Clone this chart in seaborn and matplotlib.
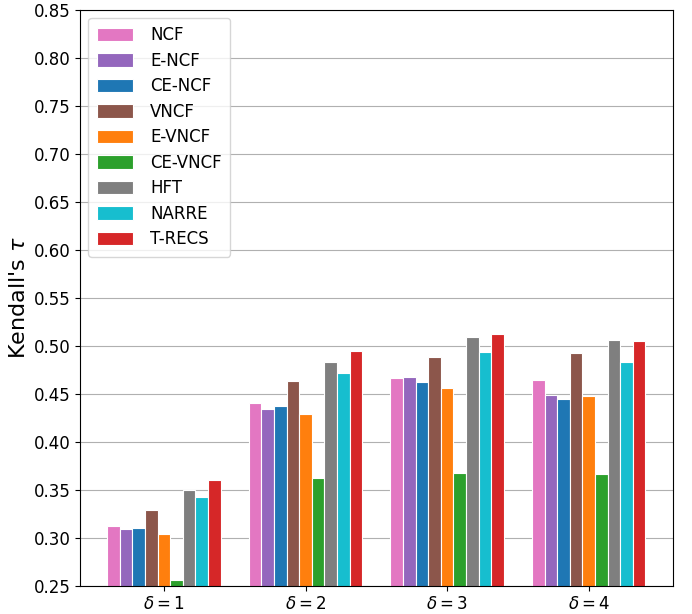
import numpy as np
import pandas as pd
import matplotlib
matplotlib.use("Agg")
import matplotlib.pyplot as plt
import seaborn as sns

groups = [r"$\delta=1$", r"$\delta=2$", r"$\delta=3$", r"$\delta=4$"]
methods = ["NCF", "E-NCF", "CE-NCF", "VNCF", "E-VNCF", "CE-VNCF", "HFT", "NARRE", "T-RECS"]
colors = ["#e377c2", "#9467bd", "#1f77b4", "#8c564b", "#ff7f0e", "#2ca02c", "#7f7f7f", "#17becf", "#d62728"]

ncf     = [0.312, 0.440, 0.466, 0.464]
e_ncf   = [0.309, 0.434, 0.467, 0.449]
ce_ncf  = [0.310, 0.437, 0.462, 0.444]
vncf    = [0.329, 0.463, 0.488, 0.492]
e_vncf  = [0.304, 0.429, 0.456, 0.448]
ce_vncf = [0.256, 0.362, 0.367, 0.366]
hft     = [0.350, 0.483, 0.509, 0.506]
narre   = [0.342, 0.472, 0.493, 0.483]
t_recs  = [0.360, 0.494, 0.512, 0.505]

series = [ncf, e_ncf, ce_ncf, vncf, e_vncf, ce_vncf, hft, narre, t_recs]
rows = []
for m, vals in zip(methods, series):
    for g, v in zip(groups, vals):
        rows.append({"group": g, "method": m, "value": v})
df = pd.DataFrame(rows)

plt.rcParams["font.family"] = ["DejaVu Sans"]
fig, ax = plt.subplots(figsize=(6.92, 6.14), dpi=100)
sns.barplot(data=df, x="group", y="value", hue="method", order=groups,
            hue_order=methods, palette=colors, ax=ax, width=0.8,
            edgecolor="white", linewidth=0.8, saturation=1)

ax.set_ylim(0.25, 0.85)
ticks = np.arange(0.25, 0.851, 0.05)
ax.set_yticks(ticks)
ax.set_yticklabels([f"{t:.2f}" for t in ticks])
ax.set_xlim(-0.593, 3.593)
ax.yaxis.grid(True, color="#b0b0b0", linewidth=0.8)
ax.set_axisbelow(True)
ax.set_xlabel("")
ax.set_ylabel(r"Kendall's $\tau$", fontsize=16, labelpad=3)
ax.tick_params(axis="both", labelsize=12)

ax.legend(loc="upper left", fontsize=12, handlelength=2.2, handleheight=0.9,
          borderpad=0.5, labelspacing=0.45, handletextpad=1.0)

fig.subplots_adjust(left=0.1156, right=0.972, top=0.9845, bottom=0.046)
fig.savefig("out.png", dpi=100)
